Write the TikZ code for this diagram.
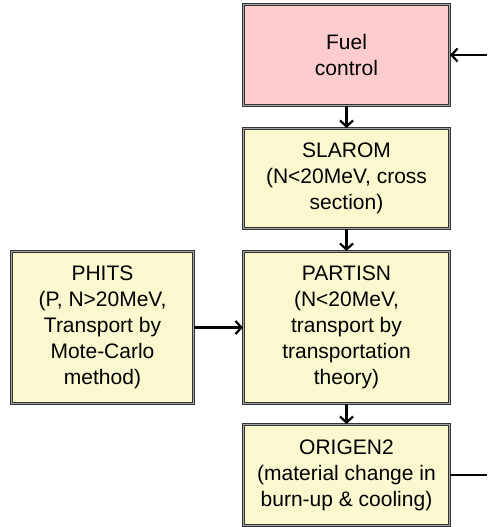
\documentclass[tikz,border=0pt]{standalone}
\usepackage{fontspec}
\setmainfont{Liberation Sans}
\usetikzlibrary{arrows.meta}

\begin{document}
\begin{tikzpicture}[x=1pt, y=-1pt,
    box/.style={draw=black!80, double=gray!70, double distance=1.4pt, line width=1pt,
        fill=yellow!25!white, align=center, inner sep=0pt,
        font=\fontsize{21}{26}\selectfont, minimum width=206pt},
    flow/.style={line width=2.2pt, -{Straight Barb[length=6pt, width=13pt, line width=2.2pt]}}]
    \useasboundingbox (0,0) rectangle (487,527);

    % Main chain of codes
    \node[box, fill={rgb,255:red,252;green,204;blue,206}, minimum height=101pt] (fuel) at (346.5,55) {Fuel\\control};
    \node[box, fill={rgb,255:red,250;green,248;blue,206}, minimum height=100pt] (slarom) at (346.5,178.5) {SLAROM\\(N<20MeV, cross\\section)};
    \node[box, fill={rgb,255:red,250;green,248;blue,206}, minimum height=152pt] (partisn) at (346.5,327.5) {PARTISN\\(N<20MeV,\\transport by\\transportation\\theory)};
    \node[box, fill={rgb,255:red,250;green,248;blue,206}, minimum height=101pt] (origen) at (346.5,475) {ORIGEN2\\(material change in\\burn-up \& cooling)};

    % High energy transport
    \node[box, fill={rgb,255:red,250;green,248;blue,206}, minimum height=152pt, minimum width=182pt] (phits) at (102.5,327.5) {PHITS\\(P, N>20MeV,\\Transport by\\Mote-Carlo\\method)};

    % Connections
    \draw[flow] (fuel) -- (slarom);
    \draw[flow] (slarom) -- (partisn);
    \draw[flow] (partisn) -- (origen);
    \draw[flow] (phits) -- (partisn);

    % Feedback loop (leaves the picture on the right)
    \coordinate (fbin) at (487,55);
    \coordinate (fbout) at (487,475);
    \draw[line width=2.2pt] (origen.east) -- (fbout);
    \draw[flow] (fbin) -- (fuel.east);

\end{tikzpicture}
\end{document}
